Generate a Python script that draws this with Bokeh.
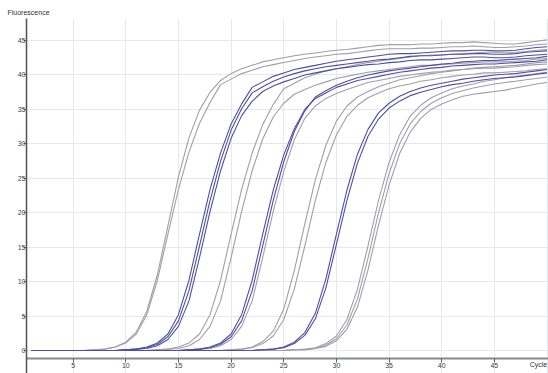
from bokeh.plotting import figure
from bokeh.models import Range1d, FixedTicker, Label
from bokeh.embed import file_html
from bokeh.resources import INLINE

cycles = list(range(1, 51))

# fluorescence per cycle (1..50)
g1a = [0.0] * 6 + [0.1, 0.2, 0.5, 1.2, 2.7, 5.7, 11.0, 18.1, 25.2, 30.9, 34.9, 37.5, 39.2, 40.2, 40.9, 41.4, 41.9, 42.2, 42.5, 42.8, 43.0, 43.2, 43.4, 43.6, 43.7, 43.9, 44.1, 44.3, 44.4, 44.4, 44.4, 44.5, 44.5, 44.6, 44.7, 44.7, 44.8, 44.7, 44.6, 44.5, 44.5, 44.7, 44.9, 45.1, 45.2]
g1b = [0.0] * 6 + [0.1, 0.2, 0.5, 1.1, 2.4, 5.2, 10.2, 16.9, 23.4, 28.8, 33.0, 36.0, 38.6, 39.4, 40.2, 40.7, 41.2, 41.5, 41.8, 42.1, 42.4, 42.6, 42.8, 43.0, 43.1, 43.3, 43.5, 43.7, 43.8, 43.8, 43.8, 43.9, 43.9, 44.0, 44.1, 44.1, 44.2, 44.1, 44.0, 44.0, 44.1, 44.2, 44.4, 44.5, 44.6]
g2a = [0.0] * 9 + [0.1, 0.2, 0.5, 1.1, 2.4, 5.2, 10.2, 16.9, 23.4, 28.7, 32.9, 35.8, 38.2, 39.0, 39.8, 40.3, 40.8, 41.1, 41.4, 41.7, 42.0, 42.2, 42.4, 42.6, 42.8, 43.0, 43.1, 43.1, 43.2, 43.3, 43.4, 43.5, 43.5, 43.6, 43.6, 43.5, 43.5, 43.6, 43.8, 44.0, 44.1]
g2b = [0.0] * 9 + [0.1, 0.2, 0.4, 0.9, 2.0, 4.3, 8.7, 15.2, 21.8, 27.5, 32.0, 35.1, 37.4, 38.3, 39.1, 39.7, 40.2, 40.6, 40.9, 41.2, 41.4, 41.6, 41.8, 42.0, 42.2, 42.3, 42.5, 42.7, 42.8, 42.8, 42.9, 43.0, 43.0, 43.1, 43.1, 43.0, 43.0, 43.1, 43.3, 43.4, 43.5]
g2c = [0.0] * 9 + [0.1, 0.2, 0.3, 0.7, 1.6, 3.5, 7.2, 13.5, 20.2, 26.1, 30.8, 34.1, 36.2, 37.6, 38.4, 39.0, 39.5, 40.0, 40.3, 40.6, 40.9, 41.1, 41.3, 41.5, 41.6, 41.8, 41.9, 42.1, 42.2, 42.2, 42.3, 42.4, 42.5, 42.6, 42.6, 42.5, 42.5, 42.6, 42.8, 42.9, 43.0]
g3a = [0.0] * 12 + [0.1, 0.2, 0.5, 1.1, 2.4, 5.2, 10.2, 16.9, 23.4, 28.7, 32.8, 35.7, 38.0, 38.8, 39.6, 40.1, 40.6, 40.9, 41.2, 41.5, 41.8, 42.0, 42.2, 42.4, 42.6, 42.8, 42.9, 42.9, 43.0, 43.1, 43.2, 43.3, 43.3, 43.2, 43.3, 43.4, 43.6, 43.7]
g3b = [0.0] * 12 + [0.1, 0.2, 0.3, 0.7, 1.6, 3.5, 7.2, 13.5, 20.2, 26.1, 30.7, 33.9, 35.9, 37.2, 37.9, 38.5, 39.0, 39.5, 39.8, 40.1, 40.4, 40.6, 40.8, 41.0, 41.2, 41.4, 41.4, 41.5, 41.6, 41.7, 41.8, 41.9, 41.9, 41.9, 42.0, 42.1, 42.3, 42.4]
g4a = [0.0] * 15 + [0.1, 0.2, 0.5, 1.1, 2.4, 5.2, 10.2, 16.9, 23.3, 28.4, 32.2, 35.0, 36.6, 37.4, 38.2, 38.7, 39.2, 39.5, 39.8, 40.1, 40.4, 40.6, 40.8, 41.0, 41.1, 41.3, 41.4, 41.5, 41.6, 41.6, 41.7, 41.8, 41.9, 42.0, 42.2]
g4b = [0.0] * 15 + [0.1, 0.2, 0.4, 0.9, 2.0, 4.3, 8.7, 15.2, 21.8, 27.4, 31.8, 34.8, 36.8, 37.7, 38.5, 39.1, 39.6, 40.0, 40.3, 40.6, 40.8, 41.0, 41.2, 41.4, 41.6, 41.7, 41.9, 42.0, 42.1, 42.1, 42.2, 42.3, 42.4, 42.5, 42.7]
g4c = [0.0] * 15 + [0.1, 0.2, 0.3, 0.7, 1.6, 3.5, 7.2, 13.5, 20.2, 26.0, 30.6, 33.7, 35.5, 36.6, 37.3, 37.9, 38.4, 38.9, 39.2, 39.5, 39.8, 40.0, 40.2, 40.4, 40.5, 40.7, 40.8, 40.9, 41.0, 41.0, 41.1, 41.2, 41.4, 41.5, 41.6]
g5a = [0.0] * 19 + [0.1, 0.2, 0.5, 1.3, 2.8, 6.0, 11.6, 18.4, 24.8, 29.8, 33.3, 35.5, 36.8, 37.6, 38.3, 38.8, 39.3, 39.6, 39.9, 40.2, 40.4, 40.6, 40.8, 41.0, 41.1, 41.2, 41.3, 41.4, 41.6, 41.8, 41.9]
g5b = [0.0] * 19 + [0.1, 0.2, 0.4, 1.0, 2.1, 4.5, 8.9, 15.2, 21.8, 27.3, 31.3, 34.0, 35.6, 36.7, 37.4, 38.0, 38.4, 38.7, 39.1, 39.3, 39.6, 39.8, 40.0, 40.1, 40.3, 40.3, 40.4, 40.5, 40.6, 40.8, 40.9]
g6a = [0.0] * 22 + [0.1, 0.2, 0.5, 1.2, 2.6, 5.4, 10.4, 16.9, 23.3, 28.5, 32.1, 34.5, 35.9, 36.9, 37.6, 38.1, 38.5, 38.8, 39.1, 39.4, 39.6, 39.8, 40.0, 40.1, 40.2, 40.4, 40.6, 40.8]
g6b = [0.0] * 22 + [0.1, 0.2, 0.4, 1.0, 2.2, 4.6, 9.1, 15.4, 21.8, 27.2, 31.1, 33.6, 35.2, 36.2, 37.0, 37.5, 37.9, 38.3, 38.6, 38.8, 39.1, 39.3, 39.5, 39.6, 39.7, 39.9, 40.1, 40.3]
g7a = [0.0] * 25 + [0.1, 0.2, 0.4, 1.0, 2.1, 4.5, 8.9, 15.2, 21.8, 27.3, 31.3, 34.0, 35.6, 36.7, 37.4, 38.0, 38.4, 38.7, 39.1, 39.3, 39.6, 39.8, 40.0, 40.2, 40.4]
g7b = [0.0] * 25 + [0.1, 0.1, 0.3, 0.8, 1.7, 3.7, 7.5, 13.4, 20.0, 25.7, 30.0, 32.9, 34.7, 35.9, 36.7, 37.3, 37.7, 38.1, 38.4, 38.7, 38.9, 39.1, 39.3, 39.5, 39.7]
g7c = [0.0] * 25 + [0.1, 0.1, 0.3, 0.6, 1.4, 3.1, 6.3, 11.7, 18.2, 24.0, 28.6, 31.7, 33.7, 35.0, 35.8, 36.4, 36.9, 37.2, 37.4, 37.6, 37.8, 38.1, 38.4, 38.7, 38.9]

gray_series = [g1a, g1b, g3a, g3b, g4c, g5a, g5b, g7a, g7b, g7c]
blue_series = [g2a, g2b, g2c, g4a, g4b, g6a, g6b]

y_ticks = [0, 5, 10, 15, 20, 25, 30, 35, 40, 45]
x_ticks = [5, 10, 15, 20, 25, 30, 35, 40, 45]
x_grid = [5, 10, 15, 20, 25, 30, 35, 40, 45, 50]

FONT = "Liberation Sans"

p = figure(width=548, height=373, output_backend="svg", toolbar_location=None,
           x_range=Range1d(0.57, 50.14), y_range=Range1d(-3.34, 48.2),
           min_border_left=26, min_border_right=0, min_border_top=18, min_border_bottom=0)
p.outline_line_color = None
p.background_fill_color = "white"
p.border_fill_color = "white"

p.title.text = "Fluorescence"
p.title.text_font = FONT
p.title.text_font_size = "7px"
p.title.text_font_style = "normal"
p.title.text_color = "#303030"
p.title.align = "left"
p.title.offset = -19
p.title.standoff = 5

for s in gray_series:
    p.line(cycles, s, line_color="#a19dab", line_width=1.1)
for s in blue_series:
    p.line(cycles, s, line_color="#4e4ea4", line_width=1.1)

p.xaxis.fixed_location = -1.1
p.xaxis.ticker = FixedTicker(ticks=x_ticks)
p.yaxis.ticker = FixedTicker(ticks=y_ticks)
p.xgrid.ticker = FixedTicker(ticks=x_grid)
p.grid.grid_line_color = "#e6e9eb"
for ax in (p.xaxis[0], p.yaxis[0]):
    ax.minor_tick_line_color = None
    ax.major_tick_in = 0
    ax.major_label_text_font = FONT
    ax.major_label_text_font_size = "7px"
    ax.major_label_text_color = "#404040"
    ax.major_tick_line_color = "#606060"
p.xaxis.axis_line_color = "#8a8a8a"
p.xaxis.axis_line_width = 2
p.xaxis.major_tick_out = 4
p.xaxis.major_label_text_align = "left"
p.xaxis.major_label_standoff = 1
p.yaxis.axis_line_color = "#505050"
p.yaxis.axis_line_width = 1.5
p.yaxis.major_tick_out = 3
p.yaxis.major_label_standoff = -2

p.add_layout(Label(x=48.35, y=-2.6, text="Cycle", text_font=FONT,
                   text_font_size="7px", text_color="#303030"))

open("out.html", "w").write(file_html(p, INLINE))
